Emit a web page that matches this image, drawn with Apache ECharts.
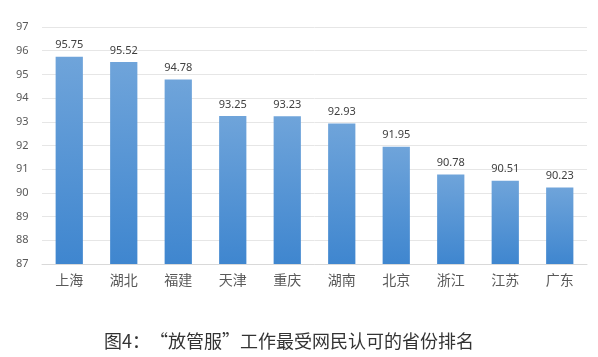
<!DOCTYPE html>
<html><head><meta charset="utf-8">
<script src="https://cdn.jsdelivr.net/npm/echarts@6/dist/echarts.min.js"></script>
<style>html,body{margin:0;padding:0;background:#fff}#c{width:598px;height:357px}</style>
</head><body><div id="c"></div>
<script>
const categories = ["上海","湖北","福建","天津","重庆","湖南","北京","浙江","江苏","广东"];
const scores = [95.75,95.52,94.78,93.25,93.23,92.93,91.95,90.78,90.51,90.23];
const titleText = "图4：“放管服”工作最受网民认可的省份排名";
const chart = echarts.init(document.getElementById('c'), null, {renderer:'canvas'});
chart.setOption({
  animation:false,
  backgroundColor:'#fff',
  title:{text:titleText,left:99,top:327,textStyle:{fontFamily:'Noto Sans CJK SC',fontSize:18,fontWeight:'normal',color:'#333'}},
  grid:{left:42,right:11,top:27,bottom:93,containLabel:false},
  xAxis:{type:'category',data:categories,
    axisLine:{lineStyle:{color:'#d9d9d9'}},axisTick:{show:false},
    axisLabel:{color:'#595959',fontSize:14,fontFamily:'Noto Sans CJK SC',margin:9}},
  yAxis:{type:'value',min:87,max:97,interval:1,
    axisLine:{show:false},axisTick:{show:false},
    splitLine:{lineStyle:{color:'#e6e6e6'}},
    axisLabel:{color:'#595959',fontSize:11,fontFamily:'Noto Sans',margin:26,align:'left'}},
  series:[{type:'bar',data:scores,barWidth:'50%',
    itemStyle:{color:new echarts.graphic.LinearGradient(0,0,0,1,[{offset:0,color:'#6fa4da'},{offset:1,color:'#3f86cf'}])},
    label:{show:true,position:'top',color:'#404040',fontSize:11,fontFamily:'Noto Sans',distance:6}}]
});
</script></body></html>
